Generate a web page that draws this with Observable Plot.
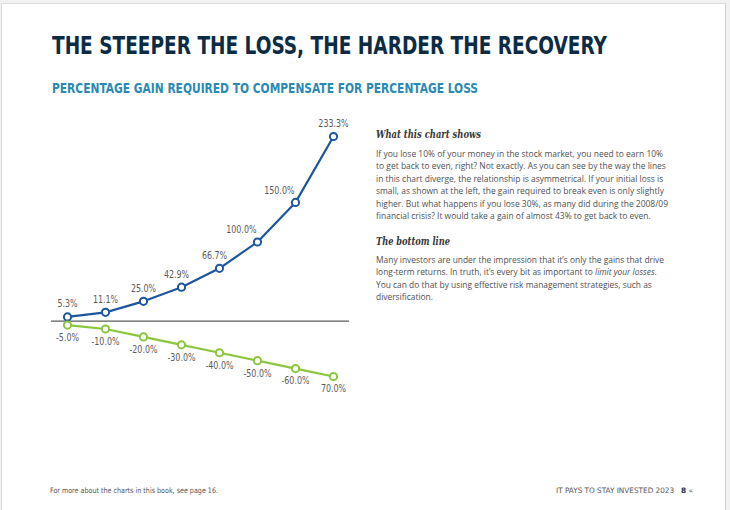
<!DOCTYPE html>
<html>
<head>
<meta charset="utf-8">
<script src="https://cdn.jsdelivr.net/npm/d3@7"></script>
<script src="https://cdn.jsdelivr.net/npm/@observablehq/plot@0.6"></script>
<style>
  html, body { margin: 0; padding: 0; }
  body { width: 730px; height: 510px; background: #f1f1f1; position: relative; overflow: hidden; font-family: "DejaVu Sans Condensed", sans-serif; }
  #page { position: absolute; left: 1px; top: 3px; width: 723px; height: 520px; background: #fff; border-left: 1px solid #dcdcdc; border-top: 1px solid #dcdcdc; border-right: 1px solid #d0d0d0; }
  .abs { position: absolute; white-space: nowrap; transform-origin: 0 0; }
  #title { left: 52px; top: 33px; font-family: "DejaVu Sans Condensed", sans-serif; font-weight: bold; font-size: 25px; line-height: 26px; color: #0c2c46; }
  #subtitle { left: 52px; top: 81px; font-family: "DejaVu Sans Condensed", sans-serif; font-weight: bold; font-size: 13.5px; line-height: 15px; color: #2a8ab3; }
  #chart { position: absolute; left: 0; top: 100px; }
  .head { position: absolute; left: 376px; font-family: "DejaVu Serif", serif; font-style: italic; font-weight: bold; font-size: 11px; color: #383838; white-space: nowrap; }
  .para { position: absolute; left: 376px; font-family: "Open Sans", sans-serif; font-size: 8.8px; line-height: 12.4px; color: #505050; white-space: nowrap; }
  .foot { position: absolute; top: 486px; font-size: 7.5px; line-height: 10px; color: #555; white-space: nowrap; font-family: "DejaVu Sans Condensed", sans-serif; }
</style>
</head>
<body>
<div id="page"></div>
<div id="title" class="abs" data-fit="555">THE STEEPER THE LOSS, THE HARDER THE RECOVERY</div>
<div id="subtitle" class="abs" data-fit="426">PERCENTAGE GAIN REQUIRED TO COMPENSATE FOR PERCENTAGE LOSS</div>
<div id="chart"></div>
<div class="head" style="top:128px" data-fit="105">What this chart shows</div>
<div class="para" style="top:148px" data-fit="292">If you lose 10% of your money in the stock market, you need to earn 10%<br>to get back to even, right? Not exactly. As you can see by the way the lines<br>in this chart diverge, the relationship is asymmetrical. If your initial loss is<br>small, as shown at the left, the gain required to break even is only slightly<br>higher. But what happens if you lose 30%, as many did during the 2008/09<br>financial crisis? It would take a gain of almost 43% to get back to even.</div>
<div class="head" style="top:235px" data-fit="74">The bottom line</div>
<div class="para" style="top:254px" data-fit="288">Many investors are under the impression that it’s only the gains that drive<br>long-term returns. In truth, it’s every bit as important to <i>limit your losses</i>.<br>You can do that by using effective risk management strategies, such as<br>diversification.</div>
<div class="foot abs" style="left:50px" data-fit="168">For more about the charts in this book, see page 16.</div>
<div class="foot abs" style="left:556px" data-fit="137">IT PAYS TO STAY INVESTED 2023 &nbsp;&nbsp;<b style="color:#1a2f45">8</b> «</div>
<script>
// Data
const losses = [-5, -10, -20, -30, -40, -50, -60, -70];
const gains = [5.3, 11.1, 25.0, 42.9, 66.7, 100.0, 150.0, 233.3];
const lossLabels = ["-5.0%", "-10.0%", "-20.0%", "-30.0%", "-40.0%", "-50.0%", "-60.0%", "70.0%"];
const gainLabels = gains.map(v => d3.format(".1f")(v) + "%");

const blue = "#1d569f";
const green = "#8cc63f";
const labelFont = '"DejaVu Sans Condensed", sans-serif';

const rows = losses.map((l, i) => ({cat: String(i), loss: l, gain: gains[i], gainLabel: gainLabels[i], lossLabel: lossLabels[i], i}));
const centered = rows.filter(d => d.i <= 2 || d.i === 7);
const shifted = rows.filter(d => d.i === 3 || d.i === 4);
const ended = rows.filter(d => d.i === 5 || d.i === 6);

const chart = Plot.plot({
  width: 370,
  height: 300,
  marginLeft: 51,
  marginRight: 21,
  marginTop: 36,
  marginBottom: 24,
  x: {type: "point", domain: rows.map(d => d.cat), padding: 0.42, axis: null},
  y: {domain: [-70, 233.3], axis: null},
  style: {fontFamily: labelFont, fontSize: "10.5px", color: "#5a5a5a", background: "transparent"},
  marks: [
    Plot.ruleY([0], {stroke: "#333", strokeWidth: 1}),
    Plot.line(rows, {x: "cat", y: "gain", stroke: blue, strokeWidth: 2.2}),
    Plot.line(rows, {x: "cat", y: "loss", stroke: green, strokeWidth: 2.2}),
    Plot.dot(rows, {x: "cat", y: "gain", r: 3.6, fill: "white", stroke: blue, strokeWidth: 2}),
    Plot.dot(rows, {x: "cat", y: "loss", r: 3.6, fill: "white", stroke: green, strokeWidth: 2}),
    Plot.text(centered, {x: "cat", y: "gain", text: "gainLabel", dy: -13, fill: "#5a5a5a"}),
    Plot.text(shifted, {x: "cat", y: "gain", text: "gainLabel", dy: -13, dx: -5, fill: "#5a5a5a"}),
    Plot.text(ended, {x: "cat", y: "gain", text: "gainLabel", dy: -12, dx: -1, textAnchor: "end", fill: "#5a5a5a"}),
    Plot.text(rows, {x: "cat", y: "loss", text: "lossLabel", dy: 12.5, fill: "#5a5a5a"})
  ]
});
document.getElementById("chart").appendChild(chart);

// condense the value labels, like the reference's narrow face
chart.querySelectorAll("text").forEach(t => {
  const len = t.getComputedTextLength();
  if (len > 0) {
    t.setAttribute("textLength", (len * 0.84).toFixed(1));
    t.setAttribute("lengthAdjust", "spacingAndGlyphs");
  }
});

// fit text widths
document.querySelectorAll("[data-fit]").forEach(el => {
  const target = +el.dataset.fit;
  const w = el.getBoundingClientRect().width;
  if (w > 0) {
    el.style.transformOrigin = "0 0";
    el.style.transform = `scaleX(${target / w})`;
  }
});
</script>
</body>
</html>
